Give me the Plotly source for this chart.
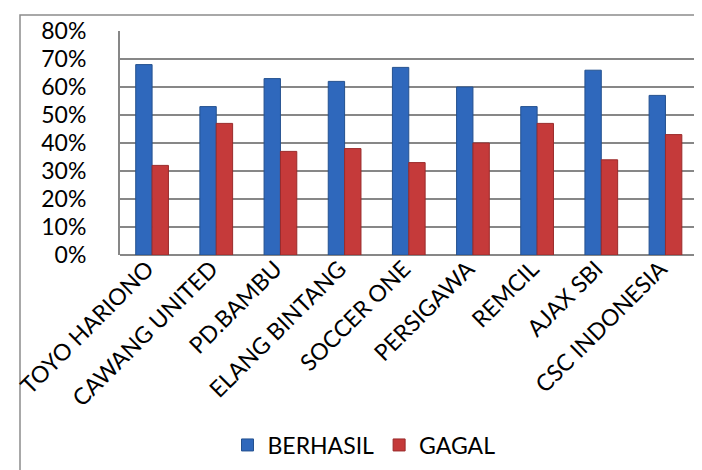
import plotly.graph_objects as go

categories = ["TOYO HARIONO", "CAWANG UNITED", "PD.BAMBU", "ELANG BINTANG", "SOCCER ONE",
              "PERSIGAWA", "REMCIL", "AJAX SBI", "CSC INDONESIA"]
berhasil = [0.68, 0.53, 0.63, 0.62, 0.67, 0.60, 0.53, 0.66, 0.57]
gagal = [0.32, 0.47, 0.37, 0.38, 0.33, 0.40, 0.47, 0.34, 0.43]
y_ticks = [0, 0.1, 0.2, 0.3, 0.4, 0.5, 0.6, 0.7, 0.8]
y_tick_labels = ["0%", "10%", "20%", "30%", "40%", "50%", "60%", "70%", "80%"]

FONT = "Lato, 'Open Sans', sans-serif"

fig = go.Figure()
fig.add_trace(go.Bar(name="BERHASIL", x=categories, y=berhasil,
                     marker=dict(color="#2F68BC", line=dict(color="#24518F", width=1))))
fig.add_trace(go.Bar(name="GAGAL", x=categories, y=gagal,
                     marker=dict(color="#C53A3A", line=dict(color="#9A2B2B", width=1))))

W, H = 702, 470
L, R, T, B = 112, 0, 23, 223
pw = W - L - R
ph = H - T - B

fig.update_layout(
    width=W, height=H,
    margin=dict(l=L, r=R, t=T, b=B),
    paper_bgcolor="white", plot_bgcolor="white",
    barmode="group", bargap=0.49, bargroupgap=0.0,
    font=dict(family=FONT, color="#000000", size=23),
    showlegend=True,
    legend=dict(orientation="h", x=(356 - L) / pw, xanchor="center",
                y=(T + ph - 437) / ph, yanchor="middle",
                font=dict(size=23), itemwidth=30, traceorder="normal"),
    xaxis=dict(range=[-0.5, 8.5 + 13 / 67], tickangle=-45, showgrid=False,
               showline=False, ticks="", tickfont=dict(size=23),
               ticklabelshift=-5, ticklabelstandoff=-5),
    yaxis=dict(range=[0, 0.8], tickvals=y_ticks, ticktext=y_tick_labels,
               showgrid=True, gridcolor="#878787", gridwidth=2,
               showline=True, linecolor="#878787", linewidth=2,
               zeroline=True, zerolinecolor="#878787", zerolinewidth=2,
               ticks="", tickfont=dict(size=23), ticklabelstandoff=27),
    shapes=[dict(type="rect", xref="paper", yref="paper",
                 x0=(12 - L) / pw, x1=1.3, y0=-1.3, y1=1 + (T - 7) / ph,
                 line=dict(color="#8C8C8C", width=1.5), layer="below")],
)

fig.write_html("out.html")
